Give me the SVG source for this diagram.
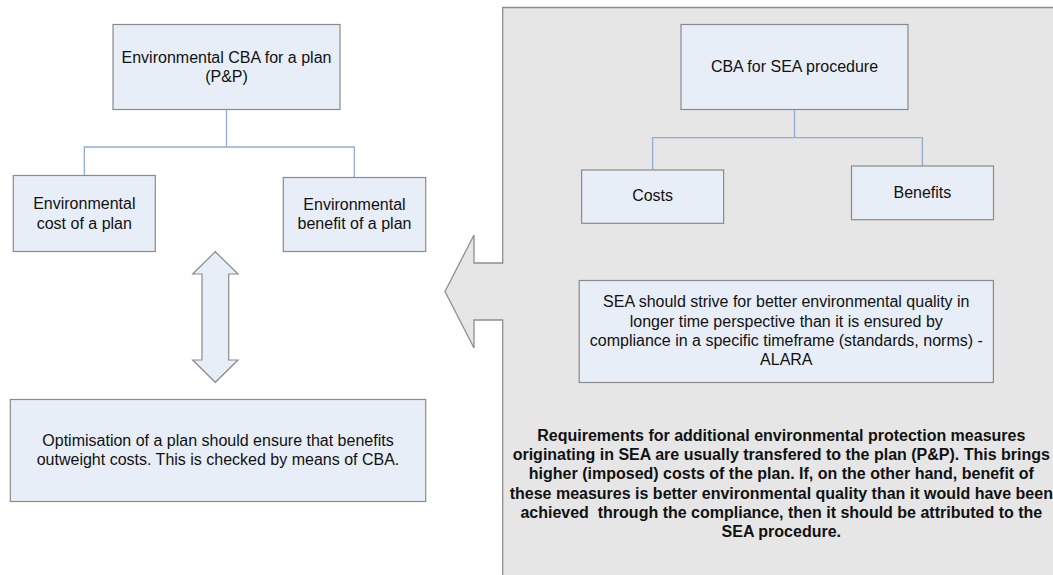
<svg xmlns="http://www.w3.org/2000/svg" width="1053" height="575" viewBox="0 0 1053 575">
<style>
.box{fill:#e8eef8;stroke:#8a8a8a;stroke-width:1.2}
.con{fill:none;stroke:#93acd4;stroke-width:1.3}
.t16{font-family:"Liberation Sans",Arial,sans-serif;font-size:16px;fill:#111;text-anchor:middle}
.tb{font-family:"Liberation Sans",Arial,sans-serif;font-size:16px;font-weight:bold;fill:#111;text-anchor:middle}
</style>
<rect width="1053" height="575" fill="#ffffff"/>
<g id="sea-panel">
<path d="M1060,7.5 L502.7,7.5 L502.7,263 L474,263 L474,235 L445,291.5 L474,348 L474,320 L502.7,320 L502.7,580 L1060,580 Z" fill="#e6e6e6" stroke="#8f8f8f" stroke-width="1.3"/>
</g>
<g id="connectors">
<path class="con" d="M226.5,109.5 V147 M84.3,175.5 V147 H354.3 V177.5"/>
<path class="con" d="M794.5,109.5 V137.7 M652.6,170 V137.7 H922.4 V166"/>
</g>
<g id="node-cba-plan">
<rect class="box" x="113" y="24.5" width="227" height="85"/>
<text class="t16" x="226.5" y="63">Environmental CBA for a plan</text>
<text class="t16" x="226.5" y="82.4">(P&amp;P)</text>
</g>
<g id="node-cost-plan">
<rect class="box" x="13.3" y="175.5" width="142" height="76"/>
<text class="t16" x="84.3" y="209.3">Environmental</text>
<text class="t16" x="84.3" y="228.6">cost of a plan</text>
</g>
<g id="node-benefit-plan">
<rect class="box" x="283.3" y="177.5" width="142.4" height="74"/>
<text class="t16" x="354.5" y="209.7">Environmental</text>
<text class="t16" x="354.5" y="229">benefit of a plan</text>
</g>
<g id="double-arrow">
<polygon class="box" points="215.3,251.7 238,274 228.7,274 228.7,360 238,360 215.3,382.3 192.7,360 202,360 202,274 192.7,274"/>
</g>
<g id="node-optimisation">
<rect class="box" x="10.3" y="399.5" width="415.4" height="102"/>
<text class="t16" x="218" y="445.7">Optimisation of a plan should ensure that benefits</text>
<text class="t16" x="218" y="465">outweight costs. This is checked by means of CBA.</text>
</g>
<g id="node-cba-sea">
<rect class="box" x="681" y="24.5" width="227" height="85"/>
<text class="t16" x="794.5" y="72.4">CBA for SEA procedure</text>
</g>
<g id="node-costs">
<rect class="box" x="581.6" y="170" width="142" height="53.3"/>
<text class="t16" x="652.6" y="201.4">Costs</text>
</g>
<g id="node-benefits">
<rect class="box" x="851.5" y="166" width="142" height="53.7"/>
<text class="t16" x="922.4" y="198">Benefits</text>
</g>
<g id="node-alara">
<rect class="box" x="579.2" y="280.5" width="414.2" height="102"/>
<text class="t16" x="786.3" y="307.4">SEA should strive for better environmental quality in</text>
<text class="t16" x="786.3" y="326.7">longer time perspective than it is ensured by</text>
<text class="t16" x="786.3" y="345.7">compliance in a specific timeframe (standards, norms) -</text>
<text class="t16" x="786.3" y="365">ALARA</text>
</g>
<g id="requirements-text">
<text class="tb" x="781.3" y="440.7">Requirements for additional environmental protection measures</text>
<text class="tb" x="781.3" y="460">originating in SEA are usually transfered to the plan (P&amp;P). This brings</text>
<text class="tb" x="781.3" y="479.2">higher (imposed) costs of the plan. If, on the other hand, benefit of</text>
<text class="tb" x="781.3" y="498.5">these measures is better environmental quality than it would have been</text>
<text class="tb" x="781.3" y="517.6" xml:space="preserve">achieved  through the compliance, then it should be attributed to the</text>
<text class="tb" x="781.3" y="537.2">SEA procedure.</text>
</g>
</svg>
